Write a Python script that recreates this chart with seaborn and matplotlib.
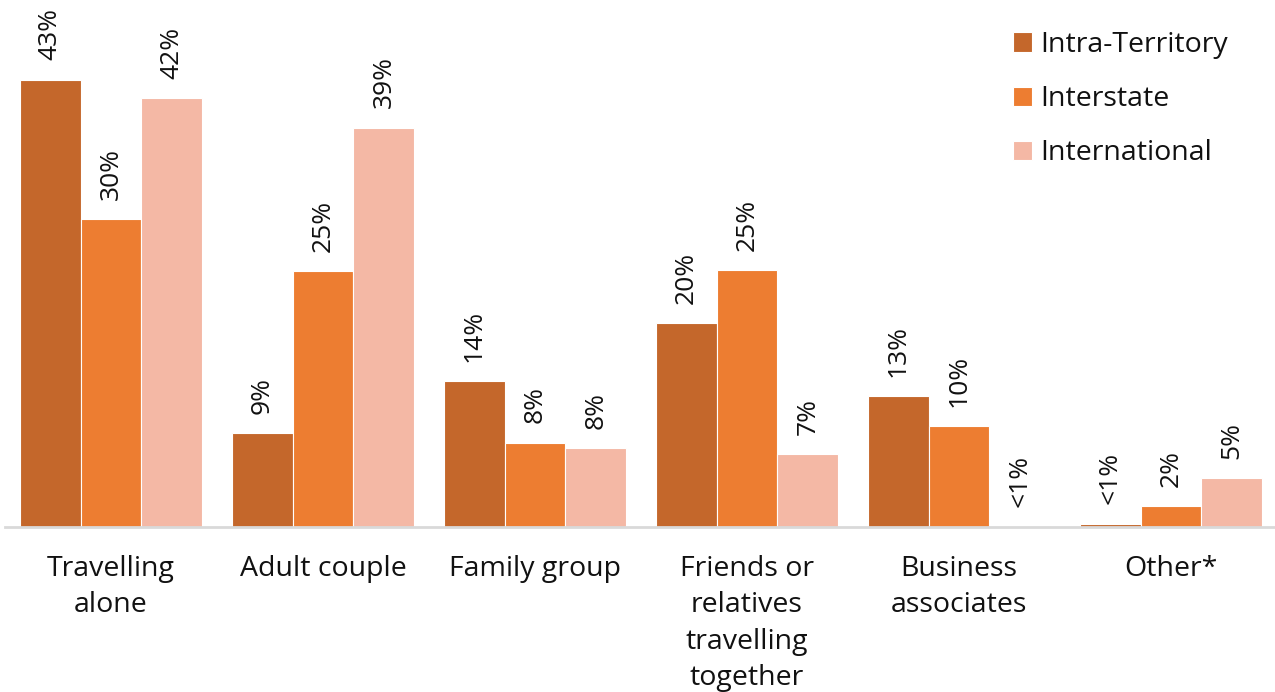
import matplotlib
matplotlib.use("Agg")
import matplotlib.pyplot as plt
import seaborn as sns
import pandas as pd

categories = ["Travelling\nalone", "Adult couple", "Family group",
              "Friends or\nrelatives\ntravelling\ntogether",
              "Business\nassociates", "Other*"]
series = ["Intra-Territory", "Interstate", "International"]

intra_territory = [43.0, 9.0, 14.0, 19.6, 12.6, 0.3]
interstate = [29.6, 24.6, 8.1, 24.7, 9.7, 2.0]
international = [41.2, 38.4, 7.6, 7.0, 0.1, 4.7]

intra_labels = ["43%", "9%", "14%", "20%", "13%", "<1%"]
interstate_labels = ["30%", "25%", "8%", "25%", "10%", "2%"]
international_labels = ["42%", "39%", "8%", "7%", "<1%", "5%"]

colors = ["#C4672B", "#ED7D31", "#F4B8A5"]

sns.set_theme(style="white")
plt.rcParams["font.family"] = ["Open Sans", "DejaVu Sans"]

df = pd.DataFrame({
    "category": categories * 3,
    "series": [s for s in series for _ in categories],
    "value": intra_territory + interstate + international,
})

fig = plt.figure(figsize=(12.75, 6.92), dpi=100)
ax = fig.add_axes([5 / 1275, 165 / 692, 1272 / 1275, 527 / 692])

sns.barplot(data=df, x="category", y="value", hue="series",
            order=categories, hue_order=series, palette=colors,
            width=0.862, edgecolor="white", linewidth=0.8,
            saturation=1, ax=ax)

ax.set_xlim(-0.5, 5.5)
ax.set_ylim(0, 50.67)

for container, labels in zip(ax.containers,
                             [intra_labels, interstate_labels, international_labels]):
    ax.bar_label(container, labels=labels, rotation=90, padding=14,
                 fontsize=19, color="#111111")

for s in ["top", "right", "left"]:
    ax.spines[s].set_visible(False)
ax.spines["bottom"].set_color("#D9D9D9")
ax.spines["bottom"].set_linewidth(2)
ax.set_yticks([])
ax.set_xlabel("")
ax.set_ylabel("")
ax.tick_params(axis="x", length=0, pad=20, labelsize=20.5, labelcolor="#111111")
for t in ax.get_xticklabels():
    t.set_linespacing(1.40)
    t.set_verticalalignment("top")

leg = ax.legend(loc="upper left", bbox_to_anchor=(1008 / 1272, 1 - 31 / 527),
                frameon=False, fontsize=20.5, handlelength=0.67, handleheight=0.67,
                handletextpad=0.28, labelspacing=0.92, borderaxespad=0, borderpad=0)
for t in leg.get_texts():
    t.set_color("#111111")

fig.savefig("out.png", dpi=100)
